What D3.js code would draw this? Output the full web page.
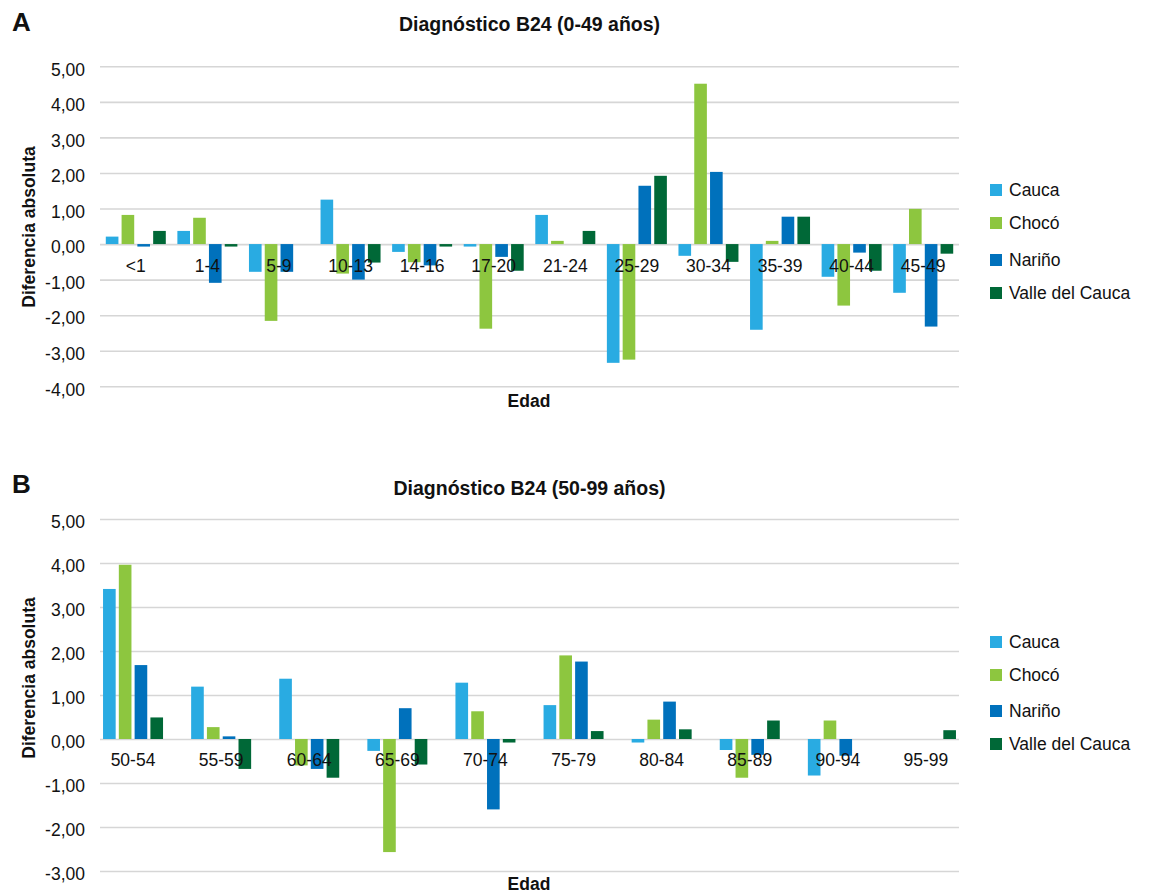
<!DOCTYPE html>
<html><head><meta charset="utf-8">
<script src="https://cdn.jsdelivr.net/npm/d3@7"></script>
<style>
body{margin:0;background:#fff;}
text{font-family:"Liberation Sans",Arial,Helvetica,sans-serif;fill:#111;}
</style></head>
<body>
<svg id="c" width="1150" height="893"></svg>
<script>
const series = ["Cauca","Chocó","Nariño","Valle del Cauca"];
const colors = ["#29abe2","#8dc63f","#0071bc","#006837"];

const catsA = ["<1","1-4","5-9","10-13","14-16","17-20","21-24","25-29","30-34","35-39","40-44","45-49"];
const caucaA  = [0.21, 0.37,-0.78, 1.25,-0.22,-0.07, 0.82,-3.34,-0.33,-2.41,-0.92,-1.37];
const chocoA  = [0.82, 0.74,-2.16,-0.83,-0.51,-2.38, 0.09,-3.25, 4.51, 0.09,-1.73, 0.99];
const narinoA = [-0.07,-1.09,-0.78,-1.00,-0.60,-0.36, 0.00, 1.64, 2.03, 0.77,-0.24,-2.32];
const valleA  = [0.37,-0.07, 0.00,-0.52,-0.07,-0.75, 0.37, 1.92,-0.50, 0.77,-0.75,-0.27];
const ticksA = [5,4,3,2,1,0,-1,-2,-3,-4];

const catsB = ["50-54","55-59","60-64","65-69","70-74","75-79","80-84","85-89","90-94","95-99"];
const caucaB  = [3.41, 1.19, 1.37,-0.27, 1.28, 0.77,-0.08,-0.25,-0.83, 0.00];
const chocoB  = [3.96, 0.27,-0.60,-2.57, 0.63, 1.90, 0.44,-0.88, 0.42, 0.00];
const narinoB = [1.68, 0.06,-0.68, 0.70,-1.60, 1.76, 0.85,-0.36,-0.38, 0.00];
const valleB  = [0.49,-0.68,-0.88,-0.58,-0.08, 0.18, 0.22, 0.42, 0.00, 0.20];
const ticksB = [5,4,3,2,1,0,-1,-2,-3];

const fmt = d3.formatLocale({decimal:",",thousands:".",grouping:[3],currency:["",""],minus:"-"}).format(".2f");
const svg = d3.select("#c");

function chart(o){
  const g = svg.append("g");
  // centre of each category group
  const x = d3.scalePoint().domain(o.cats).range([100,959]).padding(o.pad);
  const y = d3.scaleLinear().domain([d3.min(o.ticks), d3.max(o.ticks)]).range([o.yBot, o.yTop]);
  const inner = d3.scaleBand().domain(series).range([-30,30]).paddingInner(0.2);

  // grid + ticks
  const ax = g.append("g").attr("transform","translate(100,0)")
    .call(d3.axisLeft(y).tickValues(o.ticks).tickSize(-859).tickFormat(fmt).tickPadding(15));
  ax.select(".domain").remove();
  ax.selectAll(".tick line").attr("stroke","#d6d6d6").attr("stroke-width",1.6);
  ax.selectAll(".tick text").style("font-size","17.5px").attr("fill","#111")
    .style("font-family","'Liberation Sans',Arial,sans-serif").attr("dy","0.5em");

  // bars
  const data = [o.cauca,o.choco,o.narino,o.valle];
  series.forEach((s,si)=>{
    g.append("g").selectAll("rect").data(o.cats).join("rect")
      .attr("x",(c)=>x(c)+inner(s))
      .attr("width",inner.bandwidth())
      .attr("y",(c,i)=>y(Math.max(0,data[si][i])))
      .attr("height",(c,i)=>Math.abs(y(data[si][i])-y(0)))
      .attr("fill",colors[si]);
  });

  // category labels
  g.append("g").selectAll("text").data(o.cats).join("text")
    .attr("x",c=>x(c))
    .attr("y",y(0)+o.labOff)
    .attr("text-anchor","middle")
    .style("font-size","17.5px")
    .text(c=>c);

  // titles
  g.append("text").attr("x",12).attr("y",o.letterY).style("font-size","26px").style("font-weight","bold").text(o.letter);
  g.append("text").attr("x",529.5).attr("y",o.titleY).attr("text-anchor","middle")
    .style("font-size","19.5px").style("font-weight","bold").text(o.title);
  g.append("text").attr("x",529).attr("y",o.edadY).attr("text-anchor","middle")
    .style("font-size","17.5px").style("font-weight","bold").text("Edad");
  g.append("text").attr("transform",`translate(35,${o.ylabY}) rotate(-90)`).attr("text-anchor","middle")
    .style("font-size","17.5px").style("font-weight","bold").text("Diferencia absoluta");

  // legend
  const lg = g.append("g").selectAll("g").data(series).join("g")
    .attr("transform",(d,i)=>`translate(990,${o.legY[i]})`);
  lg.append("rect").attr("x",0).attr("y",-6).attr("width",12).attr("height",12).attr("fill",(d,i)=>colors[i]);
  lg.append("text").attr("x",19).attr("y",6).style("font-size","17.5px").text(d=>d);
}

chart({cats:catsA,cauca:caucaA,choco:chocoA,narino:narinoA,valle:valleA,ticks:ticksA,pad:0.5,
  yTop:66.3,yBot:386.3,labOff:28,letter:"A",letterY:31,title:"Diagnóstico B24 (0-49 años)",titleY:31,
  edadY:407,ylabY:227,legY:[190,223,260,293]});
chart({cats:catsB,cauca:caucaB,choco:chocoB,narino:narinoB,valle:valleB,ticks:ticksB,pad:0.375,
  yTop:519,yBot:871,labOff:27,letter:"B",letterY:493,title:"Diagnóstico B24 (50-99 años)",titleY:495,
  edadY:890,ylabY:678,legY:[642,675,711,744]});
</script>
</body></html>
